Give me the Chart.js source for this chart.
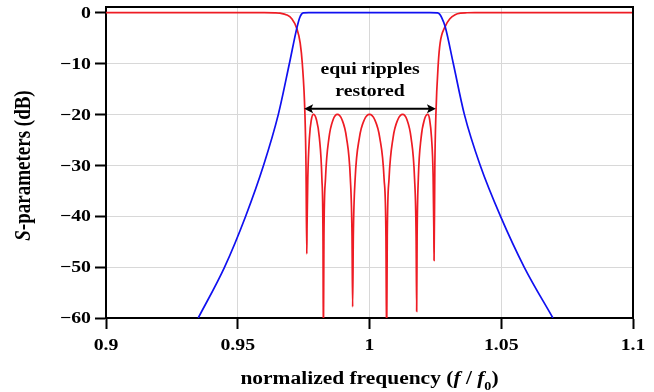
<!DOCTYPE html>
<html>
<head>
<meta charset="utf-8">
<script src="https://cdn.jsdelivr.net/npm/chart.js@4.4.1/dist/chart.umd.min.js"></script>
<style>
  body { margin: 0; background: #fff; }
  canvas { display: block; }
</style>
</head>
<body>
<canvas id="sparamChart" width="654" height="392"></canvas>
<script>
// values
const xTicks = [0.9, 0.95, 1, 1.05, 1.1];
const yTicks = [0, -10, -20, -30, -40, -50, -60];

// S21 (blue)
const freqS21 = [0.9350, 0.9450, 0.9530, 0.9598, 0.9654, 0.9696, 0.9724,
    0.9735, 0.9742, 0.9749, 0.9770, 1.0000, 1.0230, 1.0258, 1.0266, 1.0274, 1.0287,
    1.0318, 1.0360, 1.0420, 1.0497, 1.0587, 1.0696];
const s21 = [-60, -50, -40, -30, -20, -10, -3.1,
    -1.0, -0.3, -0.05, 0, 0, 0, -0.05, -0.3, -1.0, -2.75,
    -10, -20, -30, -40, -50, -60];

// S11 (red)
const freqS11 = [0.900, 0.960, 0.964, 0.966, 0.9686, 0.9705, 0.9724, 0.9737, 0.9745, 0.9755, 0.9759, 0.9762,
    0.9763, 0.97658, 0.9772, 0.97795, 0.9787,
    0.97984, 0.98098, 0.98193, 0.98235, 0.9825,
    0.98271, 0.98330, 0.98462, 0.98621, 0.9878,
    0.98954, 0.99128, 0.99273, 0.99337, 0.9936,
    0.99386, 0.99456, 0.99616, 0.99808, 1.0000,
    1.00195, 1.0039, 1.00553, 1.00624, 1.0065,
    1.00674, 1.00742, 1.00894, 1.01077, 1.0126,
    1.01419, 1.01578, 1.0171, 1.01769, 1.0179,
    1.01807, 1.01853, 1.01958, 1.02084, 1.0221,
    1.02282, 1.02354, 1.02414, 1.0244, 1.0245,
    1.0248, 1.0252, 1.0261, 1.0268, 1.0287, 1.0305, 1.0325, 1.0345, 1.0370, 1.0400, 1.100];
const s11 = [0, 0, -0.05, -0.12, -0.45, -1.2, -3.1, -6, -10, -20, -30, -47.4,
    -42, -32.6, -24.6, -21.0, -20,
    -21.0, -24.6, -32.6, -44, -65,
    -44, -32.6, -24.6, -21.0, -20,
    -21.0, -24.6, -32.6, -44, -57.8,
    -44, -32.6, -24.6, -21.0, -20,
    -21.0, -24.6, -32.6, -44, -65,
    -44, -32.6, -24.6, -21.0, -20,
    -21.0, -24.6, -32.6, -44, -58.7,
    -44, -32.6, -24.6, -21.0, -20,
    -21.0, -24.6, -32, -42, -48.7,
    -30, -20, -10, -6, -2.75, -1.2, -0.4, -0.1, -0.03, 0, 0];

// annotation: double arrow between the band edges at this level
const arrowFrom = 0.9752;
const arrowTo = 1.0252;
const arrowLevel = -18.9;

const serif = '"Liberation Serif", "Times New Roman", serif';
const stretch = 1.16; // the reference text is a bit wider than plain Times

function toPoints(xs, ys) {
    return xs.map((x, i) => ({ x: x, y: ys[i] }));
}

function fmtX(v) { return String(v); }
function fmtY(v) { return v < 0 ? '\u2212' + Math.abs(v) : String(v); }

// draws a row of text pieces (some italic / subscript); align: 'center' or 'right'
function drawRuns(ctx, runs, size, align) {
    let total = 0;
    runs.forEach(r => {
        const s = r.sub ? size * 0.66 : size;
        ctx.font = (r.it ? 'italic ' : '') + 'bold ' + s + 'px ' + serif;
        r.w = ctx.measureText(r.t).width;
        total += r.w;
    });
    let x = align === 'right' ? -total : -total / 2;
    runs.forEach(r => {
        const s = r.sub ? size * 0.66 : size;
        ctx.font = (r.it ? 'italic ' : '') + 'bold ' + s + 'px ' + serif;
        ctx.fillText(r.t, x, r.sub ? size * 0.3 : 0);
        x += r.w;
    });
}

function stretchedText(ctx, text, x, y, size, align, sx) {
    ctx.save();
    ctx.translate(x, y);
    ctx.scale(sx || stretch, 1);
    drawRuns(ctx, [{ t: text }], size, align);
    ctx.restore();
}

const extras = {
    id: 'extras',
    afterDraw(chart) {
        const ctx = chart.ctx;
        const a = chart.chartArea;
        const xs = chart.scales.x;
        const ys = chart.scales.y;

        ctx.save();
        // top and right frame
        ctx.strokeStyle = '#000';
        ctx.lineWidth = 2;
        ctx.beginPath();
        ctx.moveTo(a.left, a.top);
        ctx.lineTo(a.right, a.top);
        ctx.lineTo(a.right, a.bottom);
        ctx.stroke();

        // arrow
        const x1 = xs.getPixelForValue(arrowFrom);
        const x2 = xs.getPixelForValue(arrowTo);
        const yA = ys.getPixelForValue(arrowLevel);
        ctx.fillStyle = '#000';
        ctx.lineWidth = 2;
        ctx.beginPath();
        ctx.moveTo(x1 + 6, yA);
        ctx.lineTo(x2 - 6, yA);
        ctx.stroke();
        ctx.beginPath();
        ctx.moveTo(x1, yA);
        ctx.lineTo(x1 + 9, yA - 4.5);
        ctx.lineTo(x1 + 7, yA);
        ctx.lineTo(x1 + 9, yA + 4.5);
        ctx.closePath();
        ctx.fill();
        ctx.beginPath();
        ctx.moveTo(x2, yA);
        ctx.lineTo(x2 - 9, yA - 4.5);
        ctx.lineTo(x2 - 7, yA);
        ctx.lineTo(x2 - 9, yA + 4.5);
        ctx.closePath();
        ctx.fill();

        ctx.textAlign = 'left';

        // tick labels
        ctx.textBaseline = 'middle';
        xs.ticks.forEach((t, i) => {
            stretchedText(ctx, fmtX(t.value), xs.getPixelForTick(i), 346, 16.5, 'center', 1.2);
        });
        ys.ticks.forEach((t, i) => {
            stretchedText(ctx, fmtY(t.value), 91, ys.getPixelForTick(i) + 1, 16.5, 'right', 1.2);
        });

        ctx.textBaseline = 'alphabetic';

        // annotation text
        const cx = (x1 + x2) / 2;
        stretchedText(ctx, 'equi ripples', cx, 74, 17, 'center');
        stretchedText(ctx, 'restored', cx, 96, 17, 'center');

        // x axis title
        ctx.save();
        ctx.translate((a.left + a.right) / 2, 384);
        ctx.scale(stretch, 1);
        drawRuns(ctx, [
            { t: 'normalized frequency (' },
            { t: 'f', it: true },
            { t: ' / ' },
            { t: 'f', it: true },
            { t: '0', sub: true },
            { t: ')' }
        ], 18.5, 'center');
        ctx.restore();

        // y axis title
        ctx.save();
        ctx.translate(30, (a.top + a.bottom) / 2 + 3);
        ctx.rotate(-Math.PI / 2);
        ctx.scale(1, stretch);
        drawRuns(ctx, [
            { t: 'S', it: true },
            { t: '-parameters (dB)' }
        ], 19, 'center');
        ctx.restore();

        ctx.restore();
    }
};

new Chart(document.getElementById('sparamChart'), {
    type: 'line',
    data: {
        datasets: [{
            label: 'S21',
            data: toPoints(freqS21, s21),
            borderColor: '#1010f0',
            borderWidth: 1.7,
            pointRadius: 0,
            cubicInterpolationMode: 'monotone'
        }, {
            label: 'S11',
            data: toPoints(freqS11, s11),
            borderColor: '#ee1c24',
            borderWidth: 1.7,
            pointRadius: 0,
            cubicInterpolationMode: 'monotone'
        }]
    },
    options: {
        responsive: false,
        animation: false,
        layout: { padding: { top: 7, right: 21, left: 0, bottom: 0 } },
        plugins: {
            legend: { display: false },
            tooltip: { enabled: false }
        },
        scales: {
            x: {
                type: 'linear',
                min: 0.9,
                max: 1.1,
                afterBuildTicks: s => { s.ticks = xTicks.map(v => ({ value: v })); },
                afterFit: s => { s.height = 74; s.paddingLeft = 0; s.paddingRight = 0; },
                grid: { color: '#d8d8d8', lineWidth: 1, tickLength: 11, tickColor: '#000', tickWidth: 2 },
                border: { color: '#000', width: 2 },
                ticks: { display: false }
            },
            y: {
                type: 'linear',
                min: -60,
                max: 1.1,
                afterBuildTicks: s => { s.ticks = yTicks.map(v => ({ value: v })); },
                afterFit: s => { s.width = 106; s.paddingTop = 0; s.paddingBottom = 0; },
                grid: { color: '#d8d8d8', lineWidth: 1, tickLength: 11, tickColor: '#000', tickWidth: 2 },
                border: { color: '#000', width: 2 },
                ticks: { display: false }
            }
        }
    },
    plugins: [extras]
});
</script>
</body>
</html>
